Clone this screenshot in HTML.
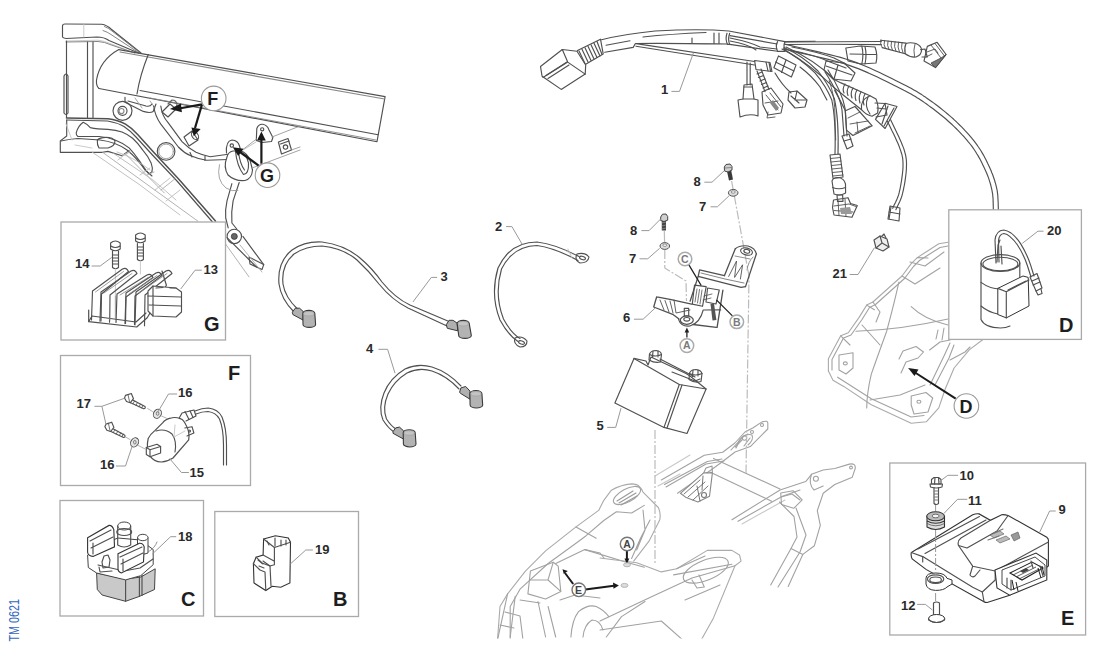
<!DOCTYPE html>
<html><head><meta charset="utf-8">
<style>
html,body{margin:0;padding:0;background:#fff;}
body{width:1100px;height:652px;overflow:hidden;}
svg{display:block;}
.lb{font-family:"Liberation Sans",sans-serif;font-weight:bold;font-size:13px;fill:#2a2a2a;}
.bl{font-family:"Liberation Sans",sans-serif;font-weight:bold;font-size:20px;fill:#1e1e1e;}
.box{fill:#fff;stroke:#aaa;stroke-width:1.3;}
.ld{fill:none;stroke:#999;stroke-width:1;}
.k{fill:none;stroke:#505050;stroke-width:1.15;stroke-linejoin:round;stroke-linecap:round;}
.g{fill:none;stroke:#c4c4c4;stroke-width:0.9;stroke-linejoin:round;stroke-linecap:round;}
.cl{font-family:"Liberation Sans",sans-serif;font-weight:bold;fill:#1e1e1e;}
</style></head><body>
<svg width="1100" height="652" viewBox="0 0 1100 652">
<!--REAR-->
<g id="rear" fill="none" stroke="#a2a2a2" stroke-width="1.1" stroke-linejoin="round" stroke-linecap="round">
<clipPath id="clipb"><rect x="0" y="0" width="1100" height="638.5"/></clipPath>
<g clip-path="url(#clipb)">
<!-- left main rear body -->
<path d="M497.5,640 L500,606.5 L507.6,593.9 L525.4,571.1 L545.6,550.9 L576,526.9 L598.7,510.4 L603.8,500.3 L611.4,490.2 Q620,485 631.6,483.9 Q637,484 639.2,486.4 Q642,489 643,492.1 L658.3,507.5 Q661,513 659.8,519.7 L649,541.2 L633.7,561.1" stroke="#aaa"/>
<path d="M510.2,640 L510.2,606.5 L520.3,588.8 L548.1,563.5 L576,543.3 L586.1,535.7 L603.8,520.5 L616.4,511.7 L631.6,513 L644.3,505.4"/>
<path d="M576,526.9 L596.2,538.2 M555.7,563.5 L584.8,549.6 L626.5,562.3 L644.3,567.3"/>
<path d="M584.8,549.6 L600,553 L604,558"/>
<ellipse cx="627" cy="495.5" rx="15" ry="6.5" transform="rotate(-28 627 495.5)"/>
<path d="M617,501 L633,491 M619,503 L636,493 M621,505 L637,496" stroke="#999"/>
<path d="M643,510 L645,530 L636.7,550 M650,520 L640.5,538.2 L631.6,558.5"/>
<path d="M600,558 L636.8,562.7 L661.3,571.9 L676.7,568.8 L707.3,550.4 L731.9,550.4 L739.5,555 L741.1,561.1 L735,565.7 L713.5,617.9 L701.2,640" stroke="#aaa"/>
<path d="M676.7,568.8 L705,556 M673.6,574.9 L731.9,564.2 M685,600 L720,585"/>
<path d="M600,621 L652.1,596.4 L692,578 L735,565.7"/>
<path d="M600,630 L661.3,621 L682.8,640"/>
<ellipse cx="705.8" cy="570.2" rx="24" ry="10" transform="rotate(-22 705.8 570.2)"/>
<path d="M692,580 L697,588 L704.3,587 L699,575"/>
<path d="M530.4,571.1 L553.2,562.3 L558.2,566.1 L560.8,591.4 L545.6,599 L527.9,593.9 Z"/>
<path d="M553.2,562.3 L548,580 L560.8,591.4 M548,580 L530.4,580"/>
<path d="M507.6,593.9 L497.5,640 M515.2,596.4 L510.2,637 M520,600 L540,603 M538,601.5 L545.6,637 M548.1,606.5 L555.7,637"/>
<path d="M505,612 L520,616 L523,640 M500,625 L514,628"/>
<path d="M570.9,637 Q572,620 578.5,611.6 Q588,604 596.2,606.5 Q604,610 608.8,616.6 M583,637 Q584,625 592,620 Q600,620 603,630"/>
<path d="M606.3,637 L621.5,616.6 L645,601.5"/>
<path d="M560,600 L575,595 L600,598"/>
</g>
<!-- right rear subframe -->
<path d="M661.3,479.9 L704.3,455.3 L722.7,452.3 L734.9,443 L745,432 L753.2,427.7 L762,421.9 Q768,420 767.8,423.3 L767.8,429 L750.3,446.6 L735,452 L722,462 L711,470 L677.5,493.2"/>
<path d="M664.4,484.5 L707.3,461.5 L722,459"/>
<path d="M655,476 L690,455 M658,486 L680,474" stroke="#c8c8c8"/>
<path d="M666,487 L706,464 L724,461" />
<circle cx="744.5" cy="438" r="2.2"/>
<circle cx="752" cy="432" r="1.5"/>
<path d="M737,444 Q741,436 748,434 M731,450 L740,440 L736,448"/>
<circle cx="762" cy="425" r="1.5"/>
<path d="M740,440 Q746,433 752,435 Q754,440 748,445 M744,446 L750,438 M735,447 L742,440"/>
<path d="M713.5,458.4 L780,489 M710.4,472.2 L771.7,501.3"/>
<path d="M731.9,519.7 L780,490 L805.7,481.6 L811.5,474.3 L823.2,470 L834.8,468.5 L849.4,464.1 Q856,463 855.2,468.5 L852.3,477.2 L834.8,484.5 L823.2,493.2 L817.3,510.7 L820.3,525.3 L814.4,545.7 L802.8,554.4 L788.2,586.5"/>
<path d="M738,521.3 L782.4,496.2 L800,490"/>
<path d="M742,524 L785,500" stroke="#c8c8c8"/>
<circle cx="815.9" cy="478.7" r="2.5"/>
<circle cx="851" cy="467.5" r="1.4"/>
<path d="M811.5,474.3 Q808,484 814,490 L823.2,486"/>
<path d="M779.5,502 L794,516.5 L797,537 L791,548.6 L770.7,585"/>
<path d="M780.7,493 L793,490.7 L802.2,499.9 L793.7,508.3 L781.5,504.5 Z M781,497 L792,494 L800,500"/>
<path d="M796,508 L806,535 L800,552 L778,587"/>
<path d="M791,548.6 L802.8,554.4"/>
<path d="M680.4,493.3 L703.7,472.9 L712.4,472.9 L709.5,496.2 L697.9,502 L686.2,497.6 Z" fill="#fff" stroke="#888"/>
<path d="M684,494 L700,480 M688,497 L705,482 M693,500 L708,486 M697,486 L700,501 M703,476 L702,490" stroke="#666" stroke-width="0.9"/>
<circle cx="704" cy="495" r="2.5" stroke="#777"/>
<path d="M703.7,472.9 L706,468 L712,466 L712.4,472.9" stroke="#999"/>
<!-- fender -->
<path d="M828.4,371 L828.4,358.8 L840.7,335.8 L848.3,332.7 L859.1,317.4 L866.7,305.1 L872.9,302 L902,276 L911.2,263.7 L917.3,257.6 L938.8,243.8 L948,242.3" stroke="#aaa"/>
<path d="M832,370 L832,359.5 L843.5,338 L851,335 L862,319.5 L869.5,307.5 L875.5,304.5 L904.5,278.5 L913.5,266.5 L919.5,260.5 L940,247.5 L948,246"/>
<path d="M828.4,371 L833,380.3 L843.7,386.4 L871.3,404.8 L911.2,423.2 L926.5,421.7 L938.8,407.9 L945,389.5 L954.1,368 L969.5,349.6 L985,338" stroke="#aaa"/>
<path d="M837.6,377.2 L871.3,398.7 L911.2,417 L924,415.5"/>
<path d="M856,331.2 Q900,330 948,319"/>
<path d="M898.9,282.1 Q895,300 886.7,331.2 Q878,355 871.3,374.1 Q867,392 866.7,407.9"/>
<path d="M911.2,306.7 Q925,320 948,325"/>
<path d="M872.9,302 L880,312 L876,322 M866.7,305.1 L874.4,309.7"/>
<path d="M839,355 L853,352.7 L853,368 L846,374 L839,370 Z"/>
<ellipse cx="845.3" cy="363.4" rx="2" ry="1.5"/>
<path d="M911.2,396 L926,392.5 L932.7,398 L928,412 L914,414 L911.2,405 Z"/>
<ellipse cx="918.9" cy="401.7" rx="2" ry="1.5"/>
<path d="M899,359 L903,351 L916,346.5 L923.5,352 L918,358 L906,362 L901,373"/>
<path d="M929.6,350 L940,342 L950,340 M930,385 L944,356 L950,343 M935,385 L949,358 L954,345"/>
<path d="M936,339 L938,330 M942,340 L944,328"/>
<path d="M950,360 L965,352 L970,347"/>
<path d="M910,262 L925,266 L944,252 M902,276 L915,284 L940,268 M917.3,257.6 L928,258"/>
<path d="M862,325 L880,345 M840.7,335.8 L850,345"/>
<path d="M870,400 L900,395 L925,385"/>
</g>
<!-- markers D, E, A -->
<g stroke="#1a1a1a" stroke-width="2" fill="#1a1a1a">
<line x1="955.7" y1="398.7" x2="915" y2="372.5"/>
<polygon points="908.1,368 918.5,369.5 914.5,376" stroke="none"/>
<line x1="573.2" y1="584" x2="565" y2="573"/>
<polygon points="562.5,569.3 567.8,571 563.8,574" stroke="none"/>
<line x1="585.3" y1="589.5" x2="614" y2="585.8"/>
<polygon points="618.9,585.4 613,582.5 613.5,588.8" stroke="none"/>
<line x1="626.9" y1="550.5" x2="626.9" y2="560"/>
<polygon points="626.9,564 624.5,558.5 629.3,558.5" stroke="none"/>
</g>
<ellipse cx="627" cy="564.8" rx="3.5" ry="2" fill="#ddd" stroke="#aaa" stroke-width="0.8"/>
<ellipse cx="624.5" cy="585.4" rx="3.5" ry="2" fill="#ddd" stroke="#aaa" stroke-width="0.8"/>
<circle cx="966.4" cy="406" r="12.3" fill="#fff" stroke="#999" stroke-width="1.1"/>
<text class="cl" x="959.5" y="412.5" style="font-size:18px">D</text>
<circle cx="578.8" cy="589.8" r="6.8" fill="#fff" stroke="#777" stroke-width="1.4"/>
<text class="cl" x="575" y="593.8" style="font-size:10.5px;fill:#444">E</text>
<circle cx="627.1" cy="544" r="6.8" fill="#fff" stroke="#777" stroke-width="1.4"/>
<text class="cl" x="623.2" y="547.9" style="font-size:10.5px;fill:#444">A</text>

<!--/REAR-->
<!--FRAME-->
<g id="frame">
<!-- head top plate -->
<path class="k" d="M62.5,26 Q62.5,24 65,24 L101.6,24.2 Q107,25 111,29 L141,53"/>
<path class="k" d="M62.5,26 L62.5,37 Q63,38 66,38.5 L97,37 Q104,37 109,40.5 L138.5,53"/>
<path class="g" d="M66,41 L98,40.2 Q105,41 110,43.5 L134.8,53"/>
<path class="g" d="M83.8,24.5 L83.8,37"/>
<path class="k" d="M104.5,26.5 Q108.5,28 112,31 L140.3,53 M103,30.5 Q107.5,32 111,34.5 L139.6,53.3" style="stroke:#777;stroke-width:0.9"/>
<path class="k" d="M66,42 L98,41.5 Q105,42 110,44.5 L134.8,53" style="stroke:#777;stroke-width:0.9"/>
<path class="k" d="M66.5,41 L66.5,117.5"/>
<path class="k" d="M87.5,42 L87.5,117.5 M93,42 L93,117.5"/>
<path class="k" d="M64,76 Q66,72 68,76 L68,113 Q66,116 64,113 Z"/>
<!-- main beam -->
<path class="k" d="M118.8,49.6 Q100,60 96.5,80 Q96,86 99,88.5"/>
<path class="k" d="M118.8,49.6 L385.1,96.6 L377,141.7 L99,88.5"/>
<path class="k" d="M120,52 L384.5,99" style="stroke:#888"/>
<path class="k" d="M140,90.5 L378.1,134.7"/>
<path class="k" d="M150,98 L376,140" style="stroke:#888;stroke-width:0.9"/>
<path class="k" d="M148.3,54.5 Q140,75 137,94"/>
<!-- head lower plate -->
<path class="k" d="M66.5,117.9 L107.9,118.8 Q118,120 125.5,124.1 Q132,128 137.9,134.7 L153.7,152.3 L178.4,178.8 L215.5,221.1" style="stroke-width:1.5"/>
<path class="k" d="M66.5,120 L107.5,121 Q117,122.5 124,126.5 Q130,130.5 136,137 L152,154.5 L177,181 L212.5,222"/>
<path class="k" d="M66.7,120 L66.7,136 L60.3,140.9 L60.3,152.3 L102.6,152.3 L107.9,151.4 L122,155.8 L129,150.6"/>
<path class="k" d="M83.2,122.3 Q88,124.5 90.3,127.6 Q97,129 107.9,129.4 Q116,130 122,132 Q128,134.5 132.6,138.2 Q138,143 143.2,150.6 Q148,156 151.1,162.9 Q153,168 152,171.7 Q150,174 148.5,173.5 Q144,168 139.6,161.1 Q134,153 129.1,147.9 Q123,143 115,140 Q107,137 99.1,136.5 L77.9,136.5 Q76,135 76.2,132.9 Q78,126 83.2,122.3 Z"/>
<path class="k" d="M61,141 Q70,139 77.9,138.5 L100,140 Q116,142 127,150 Q137,158 145,170 L152,176"/>
<path class="k" d="M97.3,140 Q100,137.3 106,137.3 Q113,137.5 115,141 Q115,146 108,148 L99,148 Q97,145 97.3,140 Z"/>
<path class="g" d="M102.6,152.3 L197.8,221.1 M125.5,154 L164.3,192.9 M122,155.8 L130,152 M147,175 L154,172 M161,190 L176,178" style="stroke:#aaa"/>
<path class="g" d="M66,124 L72,140 M75,145 L92,148"/>
<path class="g" d="M113.2,153.2 L153.7,180.5 L176,200 M92,152 L140,185 L180,215 M117,152 Q135,158 150,170" style="stroke:#bbb"/>
<path class="g" d="M118,160 L128,152 M140,175 L150,168 M155,190 L170,178 M166,201 L180,190" style="stroke:#bbb"/>
<!-- boss circles -->
<circle class="k" cx="122.5" cy="110.8" r="9.5"/>
<circle class="k" cx="122.5" cy="110.8" r="4.5"/>
<circle class="k" cx="121.5" cy="111" r="2.5" style="stroke:#888"/>
<circle class="k" cx="166.1" cy="151.4" r="8.8"/>
<circle class="g" cx="166.1" cy="151.4" r="7.3" style="stroke:#999"/>
<!-- bracket under beam -->
<path class="k" d="M125,97.3 L125,102.2 L143.3,111.4 Q150,113.5 153.2,111.4 L156,104"/>
<path class="k" d="M128,101 L146,106 Q150,107 152,104"/>
<path class="g" d="M135,98 L142,108 M150,101 L155,108" style="stroke:#999"/>
<!-- harness tube -->
<path class="k" d="M153.7,106 Q155,116 160.8,124.1 L178.4,147 Q184,153 190.8,155.8 Q198,159 206.6,160.3 L228.2,159.5"/>
<path class="k" d="M160.8,106 Q162,116 167.9,122.3 L182,141.7 Q188,148 196,152.3 Q203,155.5 210.2,156.7 L228.2,154.3"/>
<path class="k" d="M190,152.5 L192,157 M205,156 L205,160.5"/>
<path class="k" d="M231.9,183.7 L227,200.9 Q225,210 225.7,218 L228.2,227.8"/>
<path class="k" d="M239.2,182.5 L233.1,200.9 Q231,212 231.9,223 L236.8,229"/>
<path class="k" d="M227,237.6 L256.4,267 M242.9,236.4 L263.7,264.6"/>
<path class="k" d="M249,257 L263.7,264.6 L262,269.5 L250,264 Z"/>
<path class="g" d="M224.5,242.5 L249,276.9 M240,245 L262,272" style="stroke:#aaa"/>
<circle class="k" cx="234.3" cy="236.4" r="7.2"/>
<circle cx="234.3" cy="236.4" r="3" fill="#666" stroke="#333" stroke-width="0.8"/>
<!-- connectors on harness -->
<path class="k" d="M162,112 L170,104 L176,109 L168,117 Z"/>
<path class="k" d="M168,104 L172,100 Q176,100 177,104 L176,109" style="stroke:#666"/>
<path class="k" d="M184,137 L192,131 L198,140 L189,146 Z"/>
<ellipse class="k" cx="195" cy="135.5" rx="3" ry="4.5" transform="rotate(-35 195 135.5)"/>
<!-- G bracket clamp -->
<path class="k" d="M219.5,164.7 Q216,180 226,188 Q232,192 238,190.5" style="stroke:#999;stroke-width:0.9"/>
<path class="k" d="M226.5,153 Q225.5,141 232,140 Q238,140.5 239.5,146 L241,152"/>
<circle class="k" cx="231.8" cy="145.5" r="1.7"/>
<path class="k" d="M227,157 Q223,167 228,175 Q235,181.5 245,180.5 Q252,178.5 252.5,170 L250,160 Q247,153 241,151 L233,151 Q228,152 227,157 Z" style="fill:#fff"/>
<path class="k" d="M235.5,151.5 Q237,166 243.5,174.5 Q249,174 248.5,163 L246,155"/>
<path class="k" d="M238.5,152 Q240,164 244.5,170"/>
<path class="k" d="M256.3,140.5 L256.8,128.5 Q258.5,124 262.5,124.3 Q267.5,125 269,130 L272.9,137.5 L271.5,141.5 L262,142.5 Z"/>
<circle class="k" cx="262.2" cy="129.3" r="1.6"/>
<path class="k" d="M278.4,142 L288,138.5 L291.5,150 L281.5,154 Z"/>
<path class="k" d="M280.5,144 L289,141"/>
<circle class="k" cx="285.5" cy="147" r="2.2"/>
<path class="g" d="M241,151 L256.5,139 M252,168 L300,150 M272,137 L300,126 M291.5,150 L300,147" style="stroke:#999"/>
<path class="g" d="M243,150 L256,142" style="stroke:#bbb"/>
<!-- F and G markers -->
<g stroke="#1a1a1a" stroke-width="2.2" fill="#1a1a1a">
<line x1="202" y1="104.4" x2="179" y2="108.5"/>
<polygon points="169.9,108.9 180.9,103.6 181.9,112.2" stroke="none"/>
<line x1="202" y1="104.4" x2="195" y2="128"/>
<polygon points="193.8,136.2 191.4,127.6 200.6,128.9" stroke="none"/>
<line x1="258.6" y1="165.6" x2="240" y2="152"/>
<polygon points="232.8,147.2 243.5,148.7 238.2,155.9" stroke="none"/>
<line x1="261.4" y1="163.7" x2="261.4" y2="139"/>
<polygon points="261.4,131.5 265.8,140.5 257,140.5" stroke="none"/>
</g>
<circle cx="213.7" cy="98.4" r="12.3" fill="#fff" stroke="#999" stroke-width="1.1"/>
<text class="cl" x="207.2" y="105.2" style="font-size:18px">F</text>
<circle cx="267.5" cy="175.2" r="12.3" fill="#fff" stroke="#999" stroke-width="1.1"/>
<text class="cl" x="260" y="182" style="font-size:18px">G</text>
</g>

<!--/FRAME-->
<!--HARNESS-->
<g id="harness">
<!-- end connector (cube) -->
<path class="k" d="M540.5,66.5 L562.3,49.5 L577,51.2 L585.7,65 L585.2,74.1 L561.2,89.4 L542.1,76.3 Z"/>
<path class="k" d="M562.3,49.5 L567.7,62.1 L585.2,74.1 M567.7,62.1 L543,77.5"/>
<path class="k" d="M546,75.5 L567,62 M548,78.5 L569,65"/>
<!-- corrugated sleeve -->
<path class="k" d="M577.5,50.6 L600.5,39.2 L603.2,53.9 L585.7,64.3"/>
<path class="k" d="M579,51 L585,63.5 M582,49.2 L588,62 M585,47.8 L591,60.5 M588,46.3 L594,59 M591,44.8 L597,57.5 M594,43.2 L600,56 M597,41.5 L602,54.5"/>
<!-- main sleeve -->
<path class="k" d="M601.5,39.7 Q625,34 655,31 Q700,28.5 728.8,31 L784.9,41.6 L815,41.2"/>
<path class="k" d="M604.8,52.3 L633.2,47.4 L635.4,43.5 Q660,43 727.3,44"/>
<path class="k" d="M606,45.2 L630,40.8 M643,37 Q670,34 706,32.5"/>
<path class="k" d="M692,38 L692,43 M714,33 L714,43.5 M719,33 L719,43.5"/>
<path class="k" d="M727,33.3 Q725,39 727.5,44.4 L729.7,44.4 Q727.5,39 729.7,33.3"/>
<!-- bundle between collars -->
<path class="k" d="M729.7,44.4 L777.6,51.3"/>
<path class="k" d="M730,35.6 L777,44 M730,38 Q750,42 760,47 L777,49 M730,41 Q748,44 756,50"/>
<path class="k" d="M777.6,41.6 Q775,46 777.6,51.3 L785,51.3 Q783,46 785,41.6"/>
<!-- thin branch cable -->
<path class="k" d="M636,43.6 Q690,52 754.6,61.5"/>
<path class="k" d="M636,46.2 Q690,55 754.6,65"/>
<!-- collar + connector on branch -->
<path class="k" d="M754.6,60.5 L770,62.5 L772,71.5 L756,69.5 Z"/>
<path class="k" d="M766,62 L768,71 M769,62.3 L770.5,71.2"/>
<path class="k" d="M778.5,55.9 L796,65.1 L791.4,77 L773.9,67.8 Z"/>
<path class="k" d="M786,60 L781.5,72.5 M775.5,62 L794,71"/>
<!-- W1 top wire -->
<path class="k" d="M785,42 Q830,41.5 881.3,41.5"/>
<path class="k" d="M785,44.5 Q830,44 881.3,44.6"/>
<!-- W2 long cable -->
<path class="k" d="M783.4,48.9 L789.0,50.3 L794.6,51.6 L800.3,52.9 L806.0,54.2 L811.7,55.5 L817.3,56.7 L822.9,58.1 L828.4,59.4 L833.8,60.8 L839.1,62.2 L844.3,63.8 L849.2,65.4 L854.0,67.1 L858.9,68.9 L863.6,70.9 L868.3,72.9 L872.9,75.0 L877.4,77.1 L881.8,79.2 L886.0,81.2 L890.0,83.3 L893.9,85.2 L897.5,87.0 L900.9,88.7 L903.9,90.3 L906.7,91.7 L909.1,93.0 L911.4,94.2 L913.4,95.4 L915.3,96.5 L917.1,97.7 L918.9,98.8 L920.7,100.0 L922.6,101.3 L924.5,102.6 L926.6,104.0 L928.7,105.6 L930.9,107.2 L933.1,108.8 L935.3,110.5 L937.5,112.2 L939.7,114.0 L941.9,115.7 L944.1,117.5 L946.2,119.3 L948.3,121.2 L950.3,123.0 L952.3,124.8 L954.2,126.7 L956.1,128.5 L958.0,130.4 L959.9,132.3 L961.7,134.3 L963.5,136.2 L965.2,138.2 L966.9,140.1 L968.5,142.1 L970.1,144.0 L971.6,145.9 L973.0,147.9 L974.3,149.8 L975.6,151.7 L976.8,153.7 L978.0,155.6 L979.1,157.6 L980.2,159.5 L981.2,161.5 L982.2,163.4 L983.1,165.4 L984.0,167.3 L984.9,169.2 L985.7,171.0 L986.5,172.8 L987.2,174.5 L987.9,176.3 L988.5,177.9 L989.1,179.6 L989.6,181.3 L990.1,182.9 L990.6,184.5 L991.0,186.2 L991.4,187.8 L991.8,189.5 L992.1,191.2 L992.4,192.8 L992.7,194.5 L992.8,196.2 L993.0,197.9 L993.1,199.7 L993.1,201.4 L993.2,203.2 L993.2,204.9 L993.3,206.7 L993.3,208.5 L993.4,210.3 L993.5,212.1"/>
<path class="k" d="M784.6,44.1 L790.1,45.4 L795.7,46.7 L801.4,48.0 L807.1,49.3 L812.8,50.6 L818.4,51.9 L824.1,53.2 L829.6,54.6 L835.1,56.0 L840.5,57.4 L845.7,59.0 L850.8,60.6 L855.8,62.4 L860.7,64.3 L865.6,66.3 L870.3,68.3 L875.0,70.4 L879.6,72.6 L884.0,74.7 L888.2,76.8 L892.3,78.8 L896.1,80.7 L899.7,82.6 L903.1,84.3 L906.2,85.8 L909.0,87.3 L911.5,88.6 L913.8,89.9 L915.9,91.1 L917.9,92.3 L919.8,93.4 L921.7,94.6 L923.5,95.9 L925.4,97.1 L927.3,98.5 L929.4,100.0 L931.6,101.5 L933.9,103.1 L936.1,104.8 L938.4,106.5 L940.6,108.3 L942.9,110.1 L945.1,111.9 L947.3,113.7 L949.5,115.6 L951.6,117.4 L953.7,119.3 L955.7,121.2 L957.7,123.1 L959.6,125.0 L961.6,126.9 L963.5,128.9 L965.3,130.9 L967.2,132.9 L969.0,134.9 L970.7,136.9 L972.4,138.9 L974.0,140.9 L975.5,142.9 L977.0,144.9 L978.4,147.0 L979.8,149.0 L981.1,151.0 L982.3,153.1 L983.5,155.1 L984.6,157.2 L985.7,159.2 L986.7,161.2 L987.6,163.2 L988.6,165.2 L989.4,167.1 L990.3,169.0 L991.1,170.8 L991.8,172.7 L992.6,174.5 L993.2,176.2 L993.8,178.0 L994.4,179.7 L994.9,181.5 L995.4,183.2 L995.9,184.9 L996.3,186.7 L996.7,188.4 L997.1,190.2 L997.4,192.1 L997.6,193.9 L997.8,195.8 L997.9,197.6 L998.0,199.4 L998.1,201.2 L998.2,203.0 L998.2,204.8 L998.3,206.6 L998.3,208.4 L998.4,210.1 L998.5,211.9"/>
<!-- fan wires -->
<path class="k" d="M782,49 Q800,58 815,72.9 Q826,86 831.8,100 Q836,120 835,154"/>
<path class="k" d="M784,47.5 Q803,56 818,71 Q829,85 834.5,99 Q839,120 838,154"/>
<path class="k" d="M800,67 Q812,76 820,87 L826.9,100"/>
<path class="k" d="M786,47 Q815,60 834.7,79.7"/>
<path class="k" d="M785,50 Q812,66 833.6,87.2"/>
<path class="k" d="M887.4,121.1 L888.5,123.6 L889.7,126.0 L890.9,128.6 L892.1,131.1 L893.4,133.6 L894.6,136.1 L895.7,138.6 L896.8,141.0 L897.9,143.3 L898.8,145.5 L899.6,147.6 L900.3,149.6 L900.9,151.4 L901.4,153.0 L901.9,154.6 L902.2,156.0 L902.5,157.3 L902.7,158.6 L902.8,159.8 L902.9,161.1 L903.0,162.5 L903.0,163.9 L903.0,165.5 L903.0,167.2 L902.9,169.1 L902.7,171.2 L902.5,173.3 L902.2,175.6 L901.9,177.9 L901.6,180.2 L901.2,182.5 L900.8,184.8 L900.4,187.0 L900.0,189.1 L899.5,191.1 L899.1,192.9 L898.7,194.5 L898.2,196.0 L897.7,197.3 L897.2,198.6 L896.7,199.9 L896.1,201.0 L895.6,202.2 L895.0,203.4 L894.4,204.5 L893.8,205.8 L893.3,207.0 L892.7,208.3"/>
<path class="k" d="M890.6,119.7 L891.7,122.1 L892.9,124.5 L894.1,127.0 L895.3,129.6 L896.5,132.1 L897.7,134.6 L898.9,137.1 L900.0,139.5 L901.1,141.9 L902.0,144.2 L902.9,146.4 L903.7,148.4 L904.3,150.3 L904.8,152.1 L905.2,153.7 L905.6,155.2 L905.9,156.7 L906.1,158.1 L906.3,159.5 L906.4,160.9 L906.5,162.4 L906.5,163.9 L906.5,165.6 L906.4,167.4 L906.4,169.3 L906.2,171.5 L906.0,173.7 L905.7,176.0 L905.4,178.4 L905.1,180.7 L904.7,183.1 L904.3,185.4 L903.8,187.7 L903.4,189.8 L902.9,191.9 L902.5,193.7 L902.0,195.5 L901.5,197.1 L901.0,198.6 L900.4,200.0 L899.9,201.3 L899.3,202.5 L898.7,203.7 L898.1,204.9 L897.6,206.1 L897.0,207.2 L896.4,208.4 L895.9,209.7"/>
<path class="k" d="M825,72 Q840,95 842,110 L844,136"/>
<path class="k" d="M828,70 Q842,92 845,108 L847,136"/>
<path class="k" d="M790,50 Q815,55 830,62 L846,68"/>
<path class="k" d="M792,47 Q818,52 834,58 L846,64"/>
<!-- vertical wire W9 & white connector -->
<path class="k" d="M747,62 L747,85 M750.2,63 L750.2,85"/>
<path class="k" d="M744,85 L752,84 L754,99 L758,100 L758,116 Q750,113 740,117 L738,100 L743,99 Z"/>
<path class="k" d="M743,99 L754,99 M744,87 L752,87"/>
<!-- corrugated W10 to dark connector -->

<path class="k" d="M757,71 L765,91.6 M761,69 L769,89.5"/>
<path class="k" d="M757,74 L762,72 M758.5,77.5 L763.5,75.5 M760,81 L765,79 M761.5,84.5 L766.5,82.5 M763,88 L768,86"/>
<path class="k" d="M762,92 L771,88 L783,104 L781,113 L768,115 L763,105 Z"/>
<path class="k" d="M766,95 L778,110 M770,93 L781,107 M765,103 L778,101 M768,112 L767,118 L775,117" style="stroke-width:0.9"/>
<path d="M773,100 L779,108 L776,111 L770,103 Z" fill="#888"/>
<!-- small connector -->
<path class="k" d="M775,73 Q782,85 791,93"/>
<path class="k" d="M789,92 L797,91 L807,100 L805,107 L795,108 L788,100 Z"/>
<path class="k" d="M797,91 L795,100 L806,100 M791,96 L799,103"/>
<!-- top right corrugated + connector -->
<path class="k" d="M880.6,40.2 L906,43.1 M882.3,47.6 L905.2,53.7"/>
<path class="k" d="M881,40 Q879.5,44 882.3,47.8 M884.5,40.5 Q883,45 885.5,48.6 M888,41 Q886.5,45.5 889,49.5 M891.5,41.3 Q890,46 892.5,50.4 M895,41.7 Q893.5,46.5 896,51.3 M898.5,42.1 Q897,47 899.5,52.2 M902,42.5 Q900.5,47.5 903,53" style="stroke-width:0.9"/>
<path class="k" d="M906,43.5 Q910,42 916,43.5 Q921.5,46 921.6,50 Q921.5,55 916,57 Q910,57.5 905.2,53.7 Q904,48 906,43.5 Z"/>
<path class="k" d="M915,44 Q913,50 914.5,56.5" style="stroke-width:0.9"/>
<path class="k" d="M920.7,49.6 L925,49 L927.3,57 L922,57"/>
<path class="k" d="M927.3,46.4 L937.1,42.3 L946.1,54.5 L935.5,67.6 L924,61.1 Z"/>
<path class="k" d="M931,45 L941,58 L936,65 M935,43.5 L944.5,56 M927,52 L935,49 L938,53 M926,57 L932,54" style="stroke-width:0.9"/>
<path d="M941,58 L946.1,54.5 L935.5,67.6 L931,63 Z" fill="#777" stroke="#444" stroke-width="0.8"/>
<!-- big connector top -->
<path class="k" d="M845.8,48 L860,46 L875,47 Q878,55 876,63 L861,64 L848,61 Z"/>
<path class="k" d="M861.8,46 Q864,55 861.8,64 M865,46.5 Q867,55 865,64 M850,54 L876,54.5"/>
<!-- W5 connector (rotated) -->
<path class="k" d="M826,61 L844,63 L855,73 L851,81 L833,79 L824,70 Z"/>
<path class="k" d="M838,65 L834,79 M826,66 L852,75"/>
<!-- W4 corrugated + big connector -->
<path class="k" d="M834.7,79.7 L841,82.9 L870,95.8"/>
<path class="k" d="M833.6,87.2 L861.5,109.7"/>
<path class="k" d="M845,84 Q842,89 844,93 M849,86 Q846,91 848,95.5 M853,88 Q850,93 852,98 M857,90 Q854,95 856,100.5 M861,92 Q858,97 860,103 M865,94 Q862,99 864,105"/>
<path class="k" d="M861.5,109.7 Q860,100 870,95.8 L876,99 Q879,106 877.6,113 L872,116.2 Q866,115 861.5,109.7 Z"/>
<path class="k" d="M868,97 Q864,106 870,114"/>
<path class="k" d="M875,103 L885,103.5 L887,115 L876,117"/>
<path class="k" d="M877,108 L886,109"/>
<path class="k" d="M885.1,103.3 L897,106.5 L885.1,128.5 L875.5,119.4 Z"/>
<path class="k" d="M888,106 L882,124 M894,108 L884,126"/>
<!-- W5 connector -->
<path class="k" d="M834.7,90.4 Q840,100 845.4,110.8"/>
<path class="k" d="M845.4,110.8 L855,106.5 L872.2,125.8 L852.9,135.5 L846.5,130.1 Z"/>
<path class="k" d="M848,118 L860,112 M850,124 L868,121 M857,122 L858,133 M855,133 L870,126" style="stroke-width:0.9"/>
<path class="k" d="M829.3,80.7 Q834,95 834.7,107.6 L835.7,140" style="stroke-width:0.9"/>
<path class="k" d="M842,136 L849,134 L853,146 L847,149 Z"/>
<path class="k" d="M844,141 L851,139"/>
<!-- W7 sensor -->
<path class="k" d="M830,155 L840,154 L843,177 L833,178.5 Z"/>
<path class="k" d="M830.5,158.5 L840.5,157.5 M831,162 L841,161 M831.5,165.5 L841.5,164.5 M832,169 L842,168 M832.5,172.5 L842.5,171.5 M833,176 L843,175" style="stroke-width:0.9"/>
<path class="k" d="M832,181 Q833,177.5 838,177.5 Q844,178 845.5,184 L845.6,193 Q840,196.5 834,194 Z"/>
<path class="k" d="M832.5,187.5 Q839,190 845.5,187.5"/>
<path class="k" d="M837,195 L842.6,195 L843,201.4 L837.5,201.4 Z"/>
<path class="k" d="M833.5,200 L848,197.7 L850.5,203.5 L857.3,205.5 L852,217.3 L834,215 L832.5,207.5 Z"/>
<path class="k" d="M834,206 L849,204 L856,206.5 M838,200 L839,215.5 M845,199 L846,216.5 M834,210.5 L853,212" style="stroke-width:0.9"/>
<path d="M840,208 L850,207 L852,214 L841,214 Z" fill="#999"/>
<!-- W3 end connector -->
<path class="k" d="M890,206 L900,208 L899,221 L888,219 Z"/>
<path class="k" d="M889,212 L900,214 M891,207 L889,219"/>
</g>

<!--/HARNESS-->
<!--MIDDLE-->
<g id="middle">
<!-- cable 2 -->
<path class="k" d="M579,256.5 Q555,244 537,242 Q510,242 498,268 Q490,295 500,320 Q508,335 518,341.5"/>
<path class="k" d="M578,260.5 Q555,248 537,245.5 Q513,246 501.5,269 Q494,295 503.5,319 Q511,333 520,338.5"/>
<path class="g" d="M566,251 L572,254 M568,249 L572,258"/>
<path class="k" d="M577,254 Q585,252 589,257 Q588,263 580,263 Q574,260 577,254 Z"/>
<ellipse class="k" cx="582.5" cy="258" rx="3" ry="1.6" transform="rotate(15 582.5 258)"/>
<path class="k" d="M515,338 Q522,335 527,341 Q527,347 520,347 Q513,344 515,338 Z"/>
<ellipse class="k" cx="521.5" cy="342.5" rx="3" ry="1.6" transform="rotate(15 521.5 342.5)"/>
<!-- cable 3 -->
<path class="k" d="M294,312 Q281,299 279,284 Q277,262 292,250 Q305,241 322,242 Q345,245 360,258 Q372,268 382,282 Q395,298 410,305 L449,321.5"/>
<path class="k" d="M297.5,309 Q285,297 283,284 Q281,265 294,254 Q306,246 322,246 Q343,248 357,260 Q369,271 379,284 Q392,300 408,308 L447,326"/>
<!-- cable 4 -->
<path class="k" d="M461,386 Q448,372 432,367 Q418,363 405,369 Q390,378 384,393 Q378,408 383,420 Q388,428 394,432"/>
<path class="k" d="M459,389 Q447,376 432,371 Q419,367 407,373 Q394,381 388,394 Q382,408 386.5,419 Q391,426 396,429"/>
<polygon points="292.3,312.2 295.3,308.2 299.6,308.2 303.3,311.6 303.3,320.2 292.9,314.6" fill="#b0b0b0" stroke="#3a3a3a" stroke-width="1"/>
<path d="M302.8,313.4 L303.0,324.4 A6.3,3.0 0 0 0 315.6,324.4 L314.8,313.4 A6.0,3.0 0 0 0 302.8,313.4 Z" fill="#b3b3b3" stroke="#3a3a3a" stroke-width="1.1"/>
<ellipse cx="308.8" cy="313.7" rx="5.2" ry="2.2" fill="#c4c4c4" stroke="#999" stroke-width="0.5"/>
<polygon points="446.3,324.6 449.1,320.3 453,320.3 457.1,323.1 457.7,330.8 447.3,328.3" fill="#b0b0b0" stroke="#3a3a3a" stroke-width="1"/>
<path d="M457.2,323.4 L458.7,335.4 A6.3,3.0 0 0 0 471.3,335.4 L469.2,323.4 A6.0,3.0 0 0 0 457.2,323.4 Z" fill="#b3b3b3" stroke="#3a3a3a" stroke-width="1.1"/>
<ellipse cx="463.2" cy="323.7" rx="5.2" ry="2.2" fill="#c4c4c4" stroke="#999" stroke-width="0.5"/>
<polygon points="459.6,392.2 460.9,387.9 465.7,386.5 470,391.1 470,399.2 460.4,393.3" fill="#b0b0b0" stroke="#3a3a3a" stroke-width="1"/>
<path d="M469.9,393.5 L470.09999999999997,405.0 A6.3,3.0 0 0 0 482.7,405.0 L481.9,393.5 A6.0,3.0 0 0 0 469.9,393.5 Z" fill="#b3b3b3" stroke="#3a3a3a" stroke-width="1.1"/>
<ellipse cx="475.9" cy="393.8" rx="5.2" ry="2.2" fill="#c4c4c4" stroke="#999" stroke-width="0.5"/>
<polygon points="393,431.6 395.7,427.9 399.5,427.1 403.5,430.8 403.8,439.2 393,433.3" fill="#b0b0b0" stroke="#3a3a3a" stroke-width="1"/>
<path d="M403.2,432.7 L403.4,444.0 A6.3,3.0 0 0 0 416.0,444.0 L415.2,432.7 A6.0,3.0 0 0 0 403.2,432.7 Z" fill="#b3b3b3" stroke="#3a3a3a" stroke-width="1.1"/>
<ellipse cx="409.2" cy="433.0" rx="5.2" ry="2.2" fill="#c4c4c4" stroke="#999" stroke-width="0.5"/>
<!-- battery 5 -->
<path class="k" d="M634,358.4 L614.9,402.9 L664,427.4 L687,433.5 L706.1,389 L679.3,384.5 Z"/>
<path class="k" d="M679.3,384.5 L664,427.4 M682,385 L667,428"/>
<path class="k" d="M634,358.4 L646,361 L648,365 L651,357 L686,373.5 L690,376 L706.1,389"/>
<path class="k" d="M660,359 L695,377 M672,372 L695,381 L700,379"/>
<path class="k" d="M649,360 L649.5,354 Q651,350.5 656,350.5 Q661,351 661.5,354.5 L660.5,362 Q655,363.5 649,360 Z"/>
<path class="k" d="M649.5,354.5 Q655.5,357.5 661.5,354.5 M653,351 L652.5,357.5 M658,351 L658,357"/>
<path class="k" d="M689,379.5 L689.5,373 Q691,369.5 696,369.5 Q701,370 702,373.5 L701,381.5 Q695,383.5 689,379.5 Z"/>
<path class="k" d="M689.5,373.5 Q695.5,376.5 702,373.5 M693,370 L692.5,376.5 M698,370 L698,376"/>
<!-- dash-dot center lines -->
<path d="M664.3,231 L664.6,242" fill="none" stroke="#bbb" stroke-width="1.2"/>
<path d="M664.8,250 L664.8,268 L686,281 L686.5,301" fill="none" stroke="#bbb" stroke-width="1.2" stroke-dasharray="9,2,2,2"/>
<path d="M731.6,181 L749,276 L746,473" fill="none" stroke="#bbb" stroke-width="1.2" stroke-dasharray="9,2,2,2"/>
<path d="M655,430 L655,563" fill="none" stroke="#bbb" stroke-width="1.2" stroke-dasharray="9,2,2,2"/>
<!-- bolts/washers 7 8 -->
<path d="M726.8,170.5 L731,169.5 L733,179.5 L729,180.5 Z" fill="#3a3a3a"/>
<path d="M724.3,167 L726,164.5 L730,164 L732,166.5 L732,170 L728,172 L724.5,171 Z" fill="#d0d0d0" stroke="#444" stroke-width="1"/>
<path d="M725,168 L731.5,167.5" stroke="#666" stroke-width="0.7"/>
<ellipse cx="733.2" cy="192.8" rx="4.8" ry="3.4" fill="#ddd" stroke="#555" stroke-width="1"/>
<ellipse cx="733.2" cy="192" rx="2" ry="1.2" fill="#fff" stroke="#666" stroke-width="0.7"/>
<path d="M661.8,220 L666,220 L666,230.5 L661.8,230.5 Z" fill="#444"/>
<path d="M661.5,223 L666.3,222 M661.5,226 L666.3,225 M661.5,229 L666.3,228" stroke="#aaa" stroke-width="0.6"/>
<path d="M660.7,217 L662.5,214.2 L666,214 L667.7,216.5 L667.7,220.2 L664,221.5 L660.7,220.5 Z" fill="#d0d0d0" stroke="#444" stroke-width="1"/>
<ellipse cx="664.8" cy="246" rx="4.8" ry="3.4" fill="#ddd" stroke="#555" stroke-width="1"/>
<ellipse cx="664.8" cy="245.2" rx="2" ry="1.2" fill="#fff" stroke="#666" stroke-width="0.7"/>
<!-- part 6 -->
<path class="k" d="M735.3,248.7 L724.4,275.7 M756.4,253.8 L745.5,286.6" style="stroke-width:1.3"/>
<path class="k" d="M735.3,248.7 Q740,245 748,246 Q755,248 756.4,253.8"/>
<ellipse class="k" cx="746.5" cy="251.5" rx="6" ry="3.5" transform="rotate(15 746.5 251.5)"/>
<ellipse class="k" cx="746.8" cy="251.3" rx="3" ry="1.8" transform="rotate(15 746.8 251.3)"/>
<path class="k" d="M728.7,276.4 L736.5,261.1 L734.6,277.4 L742.6,264.8 L740.4,279" style="stroke-width:0.9"/>
<path class="k" d="M753,257 Q748,262 747,270 M735,256 L750,259" style="stroke:#777;stroke-width:0.8"/>
<path class="k" d="M699.6,269.9 L724.4,275.7 M699.6,269.9 L698.2,276.4 L741.1,287.3 L745.5,286.6" style="stroke-width:1.3"/>
<path class="k" d="M701,273 L725,279 L744,283" style="stroke:#666;stroke-width:0.8"/>
<path class="k" d="M698.2,276.4 L690.1,301.2 M722.9,290.2 L717.1,327.4" style="stroke-width:1.3"/>
<path class="k" d="M694.5,285.1 L706.2,286.6 L702.5,306.3 L692.3,304.1 Z"/>
<path class="k" d="M697,289 L695,302 M699.5,289.5 L697.5,303 M702,290 L700,304" style="stroke-width:0.8"/>
<path class="k" d="M707.6,288 L719.3,290 L716,304 L706,302 Z"/>
<path class="k" d="M656.7,296.8 L671.2,299.7 L691.6,304.1 M656.7,296.8 L653.7,307 L672.7,314.3 L679,319 M693,324.5 L716.4,327.4" style="stroke-width:1.3"/>
<path class="k" d="M660,300 L664,310 M665,300.5 L669,312 M670,301 L673,313" style="stroke-width:0.9"/>
<path class="k" d="M674,300 L676,313 L690,310" style="stroke-width:0.9"/>
<ellipse class="k" cx="686.8" cy="320.1" rx="6.5" ry="4.2" style="stroke-width:1.2"/>
<ellipse class="k" cx="686.8" cy="319.3" rx="3" ry="1.8"/>
<path class="k" d="M684.3,308.4 L688.7,308.4 L688.7,316 L684.3,316 Z"/>
<path class="k" d="M678.5,319.4 Q681,327 690,326 Q700,323 703.2,310 L720.7,309.9" style="stroke-width:1.1"/>
<path d="M710.5,304 L714,303.5 L716.4,320 L712.5,320.5 Z" fill="#555"/>
<path class="k" d="M704,296 L712,294 M703,300 L711,298" style="stroke-width:0.8"/>
<!-- C B A circles (gray) -->
<path d="M688.6,264.4 L701.2,285.5 M732.4,315.9 L716.4,299.9" stroke="#222" stroke-width="1.3" fill="none"/>
<circle cx="685" cy="259" r="6.8" fill="#fff" stroke="#aaa" stroke-width="1.5"/>
<text x="681.1" y="262.8" style="font-family:'Liberation Sans',sans-serif;font-weight:bold;font-size:10.5px;fill:#7a7a7a">C</text>
<circle cx="736.8" cy="321.8" r="6.8" fill="#fff" stroke="#aaa" stroke-width="1.5"/>
<text x="733" y="325.6" style="font-family:'Liberation Sans',sans-serif;font-weight:bold;font-size:10.5px;fill:#7a7a7a">B</text>
<path d="M686.9,337.5 L686.9,331" stroke="#222" stroke-width="1.3"/>
<polygon points="686.9,327.5 689.2,332.5 684.6,332.5" fill="#222"/>
<circle cx="686.9" cy="345.6" r="6.8" fill="#fff" stroke="#aaa" stroke-width="1.5"/>
<text x="683" y="349.4" style="font-family:'Liberation Sans',sans-serif;font-weight:bold;font-size:10.5px;fill:#7a7a7a">A</text>
<!-- sensor 21 -->
<path class="k" d="M874,240 L880,236 L887,239 L889,247 L883,251 L876,248 Z" style="fill:#eee"/>
<path class="k" d="M880,236 L882,243 L889,247 M882,243 L876,248"/>
<path class="k" d="M882,236 L884,234 L886,238"/>
</g>

<!--/MIDDLE-->
<!--RECTS-->
<rect class="box" x="61" y="222" width="164.5" height="118"/>
<rect class="box" x="60.5" y="355.5" width="190" height="130"/>
<rect class="box" x="60" y="500.5" width="143.5" height="115.5"/>
<rect class="box" x="214.8" y="511.5" width="143.7" height="105"/>
<rect class="box" x="948.8" y="209.8" width="132.6" height="129.6"/>
<rect class="box" x="889.8" y="463" width="195.8" height="172"/>
<!--/RECTS-->
<!--BOXES-->
<g id="boxG">
<!-- bolts -->
<path class="k" d="M112.5,251 L112.5,267.5 Q115.5,270 118.5,267.5 L118.5,251"/>
<path class="k" d="M113,255 L118,255 M113,258 L118,258 M113,261 L118,261 M113,264 L118,264"/>
<path class="k" d="M110.6,243 Q115.4,239 120.2,243 L120.2,249 Q115.4,252.5 110.6,249 Z"/>
<path class="k" d="M110.8,246 Q115.4,249 120,246"/>
<path class="k" d="M137.4,243.5 L137.4,259.5 Q140.4,262 143.4,259.5 L143.4,243.5"/>
<path class="k" d="M138,247 L143,247 M138,250 L143,250 M138,253 L143,253 M138,256 L143,256"/>
<path class="k" d="M135.6,235 Q140.4,231 145.2,235 L145.2,241 Q140.4,244.5 135.6,241 Z"/>
<path class="k" d="M135.8,238 Q140.4,241 145,238"/>
<path class="g" d="M140.4,261 L140.4,274 M115.4,269 L115.4,318"/>
<!-- regulator body -->
<path class="k" d="M88.7,310 L88.7,321.6 L136.7,327 L147.2,317.7 L166.4,285.2 L162,271" style="stroke-width:1.2"/>
<path class="k" d="M88.7,321.6 L92,316 L136,322 L146,313"/>
<path class="k" d="M91.5,320.0 L92.5,291.0 L122.5,269 Q126.5,267 128.5,271.5 L101.5,294.0 L101.0,321.0"/>
<path class="k" d="M95.5,292.0 L123.5,271.5" style="stroke:#888;stroke-width:0.8"/>
<path class="k" d="M100,321.2 L101,292.0 L131,271 Q135,269 137,273.5 L110,295.0 L109.5,322.2"/>
<path class="k" d="M104,293.0 L132,273.5" style="stroke:#888;stroke-width:0.8"/>
<path class="k" d="M116,322.4 L117,294.0 L147,275 Q151,273 153,277.5 L126,297.0 L125.5,323.4"/>
<path class="k" d="M120,295.0 L148,277.5" style="stroke:#888;stroke-width:0.8"/>
<path class="k" d="M125,323.6 L126,293.0 L156,273 Q160,271 162,275.5 L135,296.0 L134.5,324.6"/>
<path class="k" d="M129,294.0 L157,275.5" style="stroke:#888;stroke-width:0.8"/>
<path class="k" d="M135,324.8 L136,292.0 L166,271 Q170,269 172,273.5 L145,295.0 L144.5,325.8"/>
<path class="k" d="M139,293.0 L167,273.5" style="stroke:#888;stroke-width:0.8"/>
<path class="k" d="M115.4,296 L115.4,318 M110,300 L110,320" style="stroke:#999;stroke-width:0.8"/>
<!-- connector -->
<path class="k" d="M148,291 L153,286 L176,288 L181.5,292 L181.5,312 L176,317 L153,316 L148,311 Z" style="fill:#fff"/>
<path class="k" d="M153,286 L153,316 M148,296 L181,297 M149,305 L181,306"/>
<path class="k" d="M156,288 L163,287.5 M170,288 L176,288"/>
</g>
<g id="boxF">
<!-- bolts -->
<path class="k" d="M131.3,399.3 L145,406.5 Q146,408.5 143.7,408.8 L129.5,402.3"/>
<path class="k" d="M134.5,401 L133,403.8 M137.5,402.5 L136,405.3 M140.5,404 L139,406.8 M143,405.3 L141.6,408" style="stroke-width:0.8"/>
<path class="k" d="M125.5,395.4 L131.3,393.5 L133.5,398.7 L130.2,402.8 L126.5,401.5 L124.5,398 Z" style="fill:#fff"/>
<path class="k" d="M128,394.5 L129.5,401.5" style="stroke-width:0.8"/>
<path class="k" d="M111.7,428 L124.8,435.2 Q125.8,437.2 123.5,437.5 L109.9,431"/>
<path class="k" d="M114.8,429.7 L113.3,432.5 M117.8,431.2 L116.3,434 M120.8,432.7 L119.3,435.5 M123.3,434 L121.9,436.7" style="stroke-width:0.8"/>
<path class="k" d="M105.9,424.1 L111.7,422.2 L113.9,427.4 L110.6,431.5 L106.9,430.2 L104.9,426.7 Z" style="fill:#fff"/>
<path class="k" d="M108.4,423.2 L109.9,430.2" style="stroke-width:0.8"/>
<ellipse cx="157.4" cy="413.7" rx="3.8" ry="4.8" transform="rotate(30 157.4 413.7)" fill="#e4e4e4" stroke="#444" stroke-width="0.9"/>
<ellipse cx="157.6" cy="413.5" rx="1.3" ry="1.8" fill="none" stroke="#555" stroke-width="0.7"/>
<ellipse cx="134.6" cy="442.4" rx="3.8" ry="4.8" transform="rotate(30 134.6 442.4)" fill="#e4e4e4" stroke="#444" stroke-width="0.9"/>
<ellipse cx="134.8" cy="442.2" rx="1.3" ry="1.8" fill="none" stroke="#555" stroke-width="0.7"/>
<path class="g" d="M147.6,408.5 L152.5,411.5 M161.5,416 L166.5,418.2 M125.5,437 L130,439.5 M137.2,445 L145,448.9" style="stroke:#aaa"/>
<!-- coil -->
<path class="k" d="M148.2,438.5 Q146,448 149.5,455.4 Q154,462 161.3,462 Q168,461.5 173,458 L188.7,439.8 Q190,432 186,425 Q183,419 180.8,418.9 Q175,416.5 170.4,418.2 Q165,419.5 162.6,422.8 L154.8,430.6 Q150.5,434 148.2,438.5 Z" style="stroke-width:1.2"/>
<path class="k" d="M156,431 Q165,428 172,434 Q177,441 175,452"/>
<path class="g" d="M175,425 L174,437 L185,431"/>
<path class="k" d="M146.3,447.5 L157,444.3 L160.6,446.5 L160.6,453 L150,456.7 L146.3,454.5 Z" style="fill:#fff"/>
<path class="k" d="M146.3,447.5 L150,449.8 L160.6,446.5 M150,449.8 L150,456.7"/>
<path class="k" d="M179.5,417.6 L182,413 L194,410 L196,416 L186,421"/>
<path class="k" d="M185,411.5 L189,419.5 M190,410.8 L193,417.5"/>
<path class="k" d="M184.8,428 L192,426.7 L193.9,433 L187,436"/>
<circle class="k" cx="189.5" cy="431" r="1"/>
<!-- wire -->
<path class="k" d="M195,411 Q202,408 208.2,408 Q218,409 222,417 Q226.5,428 226.5,445 L226.5,465"/>
<path class="k" d="M196,414 Q202,411.5 208,411.5 Q216,412.5 219.5,419 Q223.5,429 223.5,445 L223.5,465"/>
</g>
<g id="boxC">
<path d="M96.6,573 L97.3,589.5 L102.1,595 L125.6,601.3 L139.4,596.4 L154.5,589.5 L155.2,568.8 L140.7,577.1 L125.6,579 Z" fill="#c9c9c9" stroke="#444" stroke-width="1"/>
<path class="k" d="M125.6,579 L125.6,601.3 M139.4,576 L139.4,596.4 M142,575 L142,595.5"/>
<path d="M87.6,555 L88.3,567.5 L96.6,573 L125.6,579.9 L140.7,575.7 L153.2,564.7 L153.2,549.5 L140,540 L118,538 L100,545 Z" fill="#fff" stroke="#444" stroke-width="1"/>
<path class="k" d="M98,565 L124,571 L140,568 L153,559"/>
<ellipse cx="124.2" cy="526" rx="6.5" ry="4" fill="#fff" stroke="#444" stroke-width="1"/>
<path class="k" d="M117.7,526 L117.7,545 Q124,549 130.7,545 L130.7,526"/>
<ellipse class="k" cx="124.2" cy="532" rx="7.5" ry="3.5"/>
<path d="M137.5,537.5 L137.5,553 Q142.8,556 148,553 L148,537.5 Z" fill="#fff" stroke="#444" stroke-width="1"/>
<ellipse cx="142.8" cy="537.5" rx="5.2" ry="3.2" fill="#fff" stroke="#444" stroke-width="1"/>
<path d="M87.6,537.8 L109,525.4 Q112,525 113.8,529.5 L114.5,546.8 L93.1,556.4 Q88,556 87.6,552.3 Z" fill="#fff" stroke="#333" stroke-width="1.1"/>
<path class="k" d="M90,541 L111,530 M91,548 L113,537 M93,543 L93,554"/>
<path d="M118,553.7 L139.4,543.3 Q143,543 144.2,546.8 L143.5,562 L121.4,573 Q118,572 118,568.8 Z" fill="#fff" stroke="#333" stroke-width="1.1"/>
<path class="k" d="M120,557 L142,547 M121,564 L143,553 M123,559 L123,571"/>
<path class="k" d="M102,562 L104,556 L108,555 L110,560 L109,567 L103,568 Z"/>
<path class="k" d="M99,567 L100,572 L112,571"/>
<path class="g" d="M148,552 Q155,548 157,542" style="stroke:#888"/>
</g>
<g id="boxB">
<path d="M263.6,539 L275.4,535.7 L288.3,537.9 L290.5,542.2 L289.9,583 L280.8,587.3 L272.2,586.2 L265.8,590.5 L254,583 L253.4,563.7 L256.1,557.2 L263.1,555.1 Z" fill="#fff" stroke="#333" stroke-width="1.1"/>
<path class="k" d="M263.6,539 L274.4,547.5 L290.5,542.2 M274.4,547.5 L274.4,564.7 L270,566 L263,561 M263.1,555.1 L274,561"/>
<path class="k" d="M256.1,557.2 L262,563 L270,566 L271,586"/>
<path class="k" d="M253.4,563.7 L260,570 L265,572 L265.8,590.5"/>
<path class="k" d="M267,541 L269,545 M275,538 L275,546 M281,540 L281,546 M286,540 L286,545"/>
<path class="k" d="M258,560 L263,564 M259,566 L264,568"/>
</g>
<g id="boxD">
<path class="k" d="M981,263 L981,319.6 Q985,328 1000.4,328 Q1006,328 1010,326"/>
<path class="k" d="M1019.8,263 L1019.8,283"/>
<ellipse class="k" cx="1000.4" cy="263" rx="19.4" ry="8.4"/>
<ellipse class="k" cx="1000.4" cy="264" rx="17.5" ry="6.8"/>
<path class="k" d="M981,282.4 Q990,289 1000,289 L997.8,289"/>
<path class="k" d="M981,306 Q988,312 997.8,314"/>
<path d="M997.8,288.4 L1023,276 L1028.2,277.4 L1029,306 L1006.3,317.9 L997.8,314.5 Z" fill="#fff" stroke="#333" stroke-width="1"/>
<path class="k" d="M997.8,288.4 L1006.3,291.7 L1029,280 M1006.3,291.7 L1006.3,317.9"/>
<path class="k" d="M1008,290 L1026,281"/>
<path class="k" d="M996,263 L995,240 Q996,230.5 1003.8,230 Q1012,231 1020.6,243.6 Q1027,254 1030.8,265.6 L1034,276"/>
<path class="k" d="M999,262 L998.5,241 Q999,234 1004,233.5 Q1010,234.5 1017.5,245 Q1024,255 1027.5,266 L1031,277"/>
<path class="k" d="M997,262 L998,245 L1000,240 M1002,264 L1001,246"/>
<path class="k" d="M1030,277 L1037,273.5 L1042,288 L1036,291 Z"/>
<path class="k" d="M1036,291 L1038,295 L1042,293.5 L1041,289"/>
<path class="k" d="M1032,281 L1039,278 M1033,285 L1040,282"/>
</g>
<g id="boxE">
<!-- ECU body -->
<path d="M911.4,552.5 L972.7,514.7 Q976,513.5 979.1,513.9 L990.4,520.3 L1001.7,514.7 Q1005,514.5 1008.1,515.5 L1046.8,537.2 Q1049,539 1048.4,542 L1048.4,566 L1009.7,595.2 L987.2,602.5 Q985,602.5 984,601.7 L926,569.4 L912.2,559 Q910.5,555 911.4,552.5 Z" fill="#fff" stroke="#333" stroke-width="1.1"/>
<path class="k" d="M911.4,552.5 L922.7,556.6 L972.7,587.2 L982.3,592 L984,601.7"/>
<path class="k" d="M922.7,556.6 L922.7,562"/>
<path class="k" d="M918,549 L979.5,516.5 M925,553.5 L986,520"/>
<path class="k" d="M990.4,520.3 L961,538 Q957,541 958.5,545.5 L972.7,566.2 L995.2,571 L1048.4,542"/>
<path class="k" d="M958.5,545.5 L967,548 L997,531 L1008.1,515.5"/>
<path class="k" d="M972.7,566.2 L970,575 Q972,578 975,576 L980,570"/>
<path class="k" d="M982.3,592 L995.2,580 L995.2,571"/>
<path d="M990,535 L1000,531 L1004,534 L994,538 Z M996,540 L1006,536 L1010,539 L1000,543 Z" fill="#bbb" stroke="#555" stroke-width="0.6"/>
<path class="k" d="M994,533 L1003,529 M988,540 L999,536" style="stroke:#777"/>
<path d="M1011,535 L1018,532 L1020,538 L1014,541 Z" fill="#999" stroke="#555" stroke-width="0.6"/>
<!-- connector -->
<path d="M995,570 L1036,553 L1046.8,560 L1046.8,580 L1009.7,595.2 L997,588 Z" fill="#fff" stroke="#333" stroke-width="1.1"/>
<path d="M1002,570 L1035,557 L1045,565 L1045,576 L1011,590 L1002,584 Z" fill="#fff" stroke="#333" stroke-width="0.9"/>
<path d="M1010,573 L1032,562 L1043,568 L1022,580 Z" fill="#fff" stroke="#222" stroke-width="1.1"/>
<path d="M1013,575 L1033,565 M1016,577 L1036,567 M1019,579 L1039,569" stroke="#333" stroke-width="0.8"/>
<path d="M1020,571 L1026,568 L1029,570 L1023,573 Z" fill="#444"/>
<path d="M1012,580 L1014,590 M1016,582 L1018,591 M1038,568 L1041,578 M1042,566 L1044,575" stroke="#222" stroke-width="1"/>
<path class="k" d="M1007,578 L1007,588 M1011,580 L1011,590 M1040,566 L1043,576 M1031,561 L1033,568"/>
<!-- mount ear -->
<path d="M926,578.3 Q926,573 935.6,573 Q945,573 947,578.3 L952,580 L952,584 L947,587 Q944,590.4 935.6,590.4 Q927,590 926,584 Z" fill="#fff" stroke="#333" stroke-width="1"/>
<ellipse class="k" cx="935.6" cy="579.1" rx="8.2" ry="4.3"/>
<ellipse class="k" cx="935.6" cy="579.8" rx="5.8" ry="2.8"/>
<!-- bolt 10 -->
<path class="k" d="M931.5,479.5 L934,477.5 L938.5,477.5 L941,479.5 L941,484 L931.5,484 Z"/>
<path class="k" d="M935,477.8 L934.5,484 M938.5,477.8 L939,484"/>
<path class="k" d="M930,484 L942.5,484 L942,487 Q936.2,489 930.5,487 Z"/>
<path class="k" d="M934,487.5 L934,503.5 Q936.2,505.5 938.5,503.5 L938.5,487.5"/>
<path class="k" d="M934.5,491 L938,491 M934.5,494 L938,494 M934.5,497 L938,497 M934.5,500 L938,500" style="stroke:#777"/>
<!-- grommet 11 -->
<path d="M927,516.3 L927,527 Q935.6,532 944.5,527 L944.5,516.3 Z" fill="#ddd" stroke="#333" stroke-width="1.1"/>
<path d="M927,521 Q935.6,525.5 944.5,521" fill="none" stroke="#333" stroke-width="1.1"/>
<path d="M927,523.5 Q935.6,528 944.5,523.5" fill="none" stroke="#555" stroke-width="0.8"/>
<ellipse cx="935.6" cy="516.3" rx="8.9" ry="4.5" fill="#bbb" stroke="#333" stroke-width="1.1"/>
<ellipse cx="935.6" cy="516" rx="3.5" ry="1.8" fill="#f4f4f4" stroke="#444" stroke-width="0.7"/>
<!-- bolt 12 -->
<path class="k" d="M933.5,603 L933.5,616 L939.5,616 L939.5,603 Q936.5,601 933.5,603 Z"/>
<ellipse cx="936.6" cy="618.5" rx="8" ry="4" fill="#fff" stroke="#333" stroke-width="1"/>
<path class="k" d="M928.6,618.5 L928.6,620 Q936.6,625 944.6,620 L944.6,618.5"/>
<path d="M935.6,530 L935.6,576 M935.6,593 L935.6,602 M935.6,505 L935.6,511" fill="none" stroke="#999" stroke-width="1" stroke-dasharray="8,2,2,2"/>
</g>

<!--/BOXES-->
<!--LEADERS-->
<g id="leaders" class="ld">
<path class="ld" d="M671.4,91.4 L679.5,91.4 L693.5,52.7"/>
<path class="ld" d="M506.1,226.6 L511.9,226.6 L522.3,244.5"/>
<path class="ld" d="M437.1,277.4 L431.3,277.4 L412.9,302"/>
<path class="ld" d="M378.4,349.3 L387.6,349.3 L395,373.2"/>
<path class="ld" d="M607.2,427.4 L615.7,427.4 L621,408.2"/>
<path class="ld" d="M633.9,319.2 L643.1,319.2 L655.1,308.1"/>
<path class="ld" d="M639.5,258.8 L647.7,258.8 L659.7,248.3"/>
<path class="ld" d="M641.4,230.6 L649.1,230.6 L660.6,219"/>
<path class="ld" d="M704.3,182.2 L712,182.2 L724.3,170.7"/>
<path class="ld" d="M710.5,206.8 L717.4,206.8 L729.6,195.3"/>
<path class="ld" d="M849.7,274.5 L858,274.5 L874.5,247.6"/>
<path class="ld" d="M1043.5,231.2 L1037.9,231.2 L1022.3,243.4"/>
<path class="ld" d="M201.8,270.2 L195.1,270.2 L180.7,289"/>
<path class="ld" d="M91.6,266 L100.2,266 L111.7,257.4"/>
<path class="ld" d="M94.4,406.3 L101.9,406.3 L124.4,398.3 M101.9,406.3 L106.2,425.2"/>
<path class="ld" d="M177.1,394 L168.5,394 L157.7,412.3"/>
<path class="ld" d="M115.9,466 L125.5,466 L132,446.7"/>
<path class="ld" d="M188.9,472.5 L181.4,472.5 L169.6,458.5"/>
<path class="ld" d="M176.2,536.7 L170.6,536.7 L152.2,554.2"/>
<path class="ld" d="M312.9,550 L305.8,550 L290.3,564"/>
<path class="ld" d="M958.1,475.3 L947.8,475.3 L939.4,481.7"/>
<path class="ld" d="M967.3,499.3 L957.5,499.3 L943.6,513.8"/>
<path class="ld" d="M1055.7,511 L1049.6,511 L1039.8,531.9"/>
<path class="ld" d="M917.1,604.4 L925.4,604.4 L932.4,610"/>
</g>
<!--/LEADERS-->
<!-- box letters -->
<text class="bl" x="204" y="331">G</text>
<text class="bl" x="228" y="380">F</text>
<text class="bl" x="181" y="606">C</text>
<text class="bl" x="333" y="606">B</text>
<text class="bl" x="1059" y="332">D</text>
<text class="bl" x="1061" y="625">E</text>
<!-- labels -->
<text class="lb" x="75" y="268">14</text>
<text class="lb" x="203.5" y="273.7">13</text>
<text class="lb" x="76.5" y="408">17</text>
<text class="lb" x="178" y="397">16</text>
<text class="lb" x="100" y="469">16</text>
<text class="lb" x="189.5" y="477">15</text>
<text class="lb" x="178" y="541">18</text>
<text class="lb" x="315" y="554">19</text>
<text class="lb" x="1047" y="235">20</text>
<text class="lb" x="959.5" y="480">10</text>
<text class="lb" x="968" y="504.5">11</text>
<text class="lb" x="1058.5" y="514">9</text>
<text class="lb" x="901" y="610">12</text>
<text class="lb" x="832.5" y="278">21</text>
<text class="lb" x="661" y="94">1</text>
<text class="lb" x="495" y="231">2</text>
<text class="lb" x="440.5" y="281">3</text>
<text class="lb" x="366" y="353">4</text>
<text class="lb" x="596.5" y="430">5</text>
<text class="lb" x="623" y="322">6</text>
<text class="lb" x="629" y="263">7</text>
<text class="lb" x="630" y="235">8</text>
<text class="lb" x="699" y="211">7</text>
<text class="lb" x="693.5" y="186">8</text>
<text x="0" y="0" transform="translate(19.2 641.5) rotate(-90) scale(0.745 1)" style="font-family:'Liberation Sans',sans-serif;font-size:14.5px;fill:#3366c0;">TM 0621</text>
</svg>
</body></html>
